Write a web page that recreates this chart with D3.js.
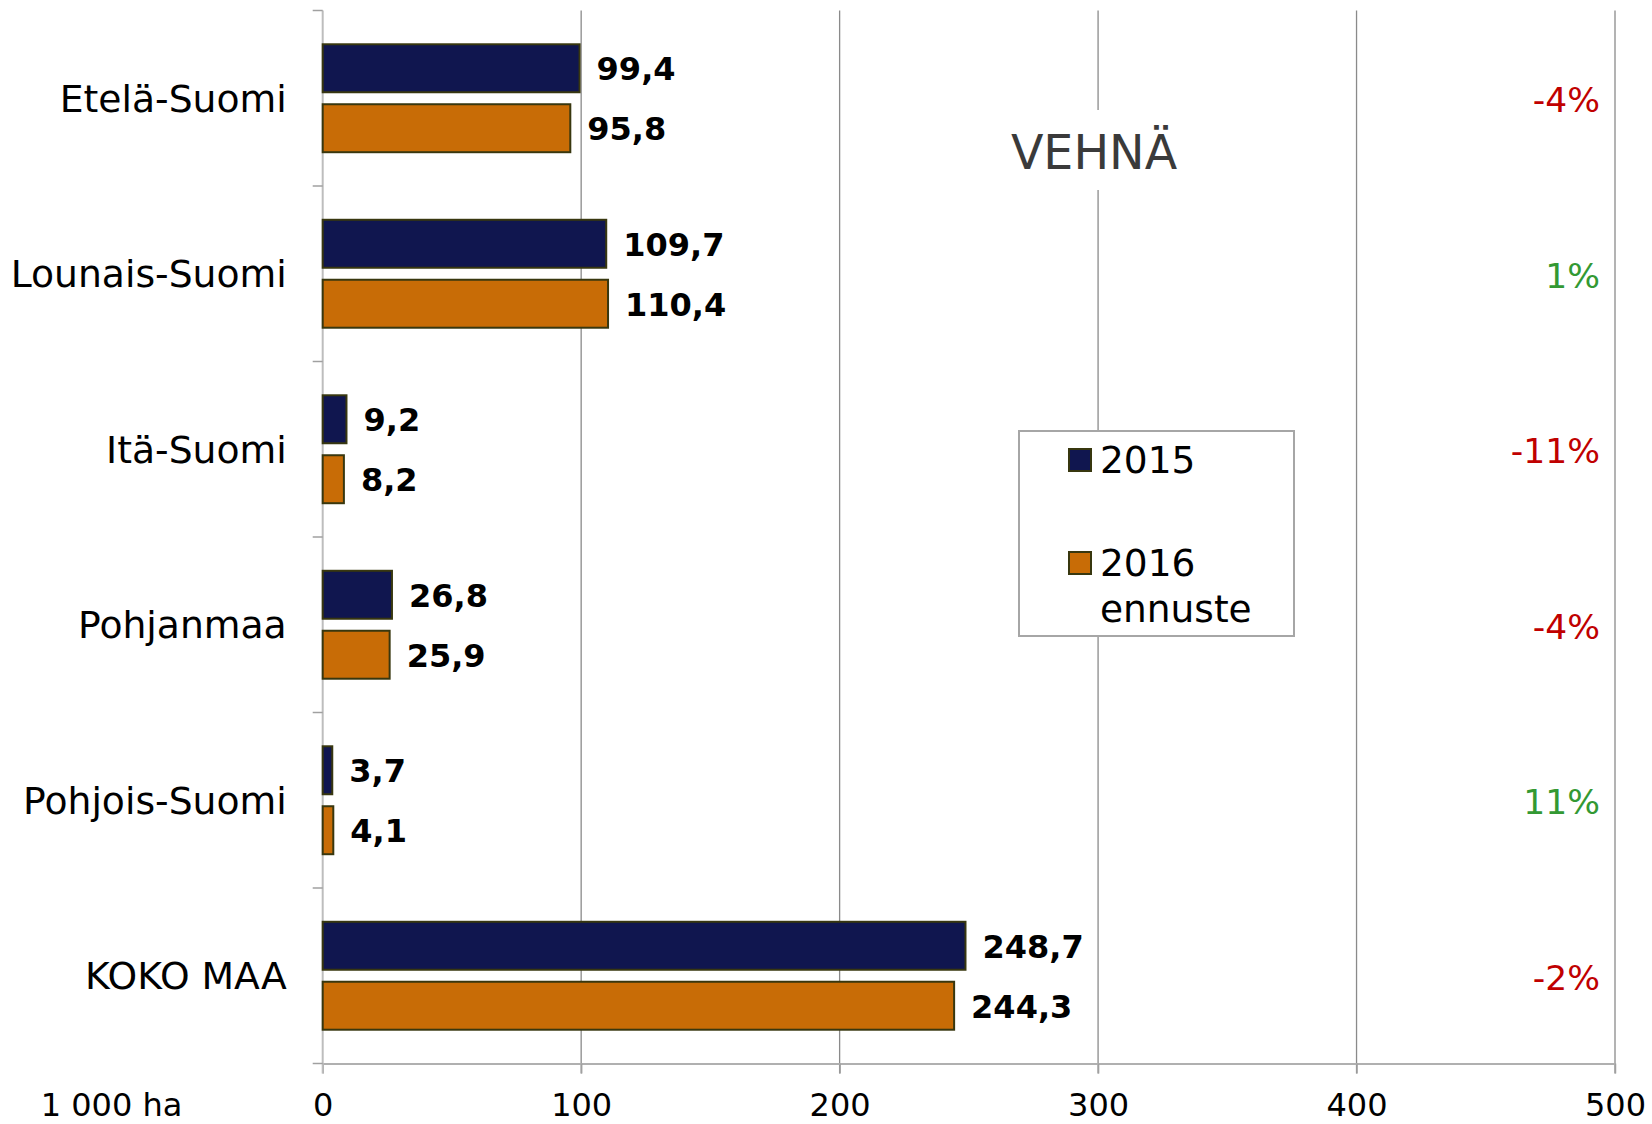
<!DOCTYPE html>
<html>
<head>
<meta charset="utf-8">
<script src="https://cdn.jsdelivr.net/npm/d3@7"></script>
<style>
  body { margin: 0; background: #fff; }
  text { font-family: "DejaVu Sans", Verdana, sans-serif; }
</style>
</head>
<body>
<svg id="chart" width="1652" height="1124"></svg>
<script>
// data
var regions = ['Etelä-Suomi', 'Lounais-Suomi', 'Itä-Suomi', 'Pohjanmaa', 'Pohjois-Suomi', 'KOKO MAA']
var years = ['2015', '2016']
var values2015 = [99.4, 109.7, 9.2, 26.8, 3.7, 248.7]
var values2016 = [95.8, 110.4, 8.2, 25.9, 4.1, 244.3]
var changes = ['-4%', '1%', '-11%', '-4%', '11%', '-2%']
var xTicks = [0, 100, 200, 300, 400, 500]
var legendLabels = [['2015'], ['2016', 'ennuste']]

var colors = { '2015': '#10164f', '2016': '#c86c06' }

var svg = d3.select('#chart'),
  margin = {top: 10.5, right: 37, bottom: 60.5, left: 322.7},
  width = +svg.attr('width') - margin.left - margin.right,
  height = +svg.attr('height') - margin.top - margin.bottom

var x = d3.scaleLinear().domain([0, 500]).range([0, width])
var y = d3.scaleBand().domain(regions).range([0, height])
  .paddingInner(0.385).paddingOuter(0.1925)
var yInner = d3.scaleBand().domain(years).range([0, y.bandwidth()]).paddingInner(0.2)

var g = svg.append('g')
  .attr('transform', 'translate(' + margin.left + ',' + margin.top + ')')

// vertical gridlines
g.append('g')
  .selectAll('line')
  .data(xTicks.slice(1))
  .enter().append('line')
  .attr('x1', function (d) { return x(d) })
  .attr('x2', function (d) { return x(d) })
  .attr('y1', 0)
  .attr('y2', height + 10)
  .attr('stroke', '#8a8a8a')
  .attr('stroke-width', 1.3)

// x axis
var xAxis = g.append('g')
  .attr('transform', 'translate(0,' + height + ')')
  .call(d3.axisBottom(x).tickValues(xTicks).tickSize(10).tickPadding(20).tickSizeOuter(0))
xAxis.select('.domain').attr('stroke', '#b0b0b0').attr('stroke-width', 2)
xAxis.selectAll('.tick line').attr('stroke', '#a0a0a0').attr('stroke-width', 1.5)
xAxis.selectAll('.tick text')
  .attr('font-size', 32)
  .attr('font-family', '"DejaVu Sans", Verdana, sans-serif')
  .attr('fill', '#000')

// y axis line and category ticks
var boundaries = regions.map(function (d) { return y(d) - y.step() * y.paddingInner() / 2 })
boundaries.push(height)
g.append('line')
  .attr('x1', 0).attr('x2', 0)
  .attr('y1', 0).attr('y2', height + 10)
  .attr('stroke', '#bdbdbd')
  .attr('stroke-width', 2)
g.append('g')
  .selectAll('line')
  .data(boundaries)
  .enter().append('line')
  .attr('x1', -10).attr('x2', 0)
  .attr('y1', function (d) { return d })
  .attr('y2', function (d) { return d })
  .attr('stroke', '#a0a0a0')
  .attr('stroke-width', 1.5)

// category labels
g.append('g')
  .selectAll('text')
  .data(regions)
  .enter().append('text')
  .attr('x', -36)
  .attr('y', function (d) { return y(d) + y.bandwidth() / 2 })
  .attr('dy', '0.36em')
  .attr('text-anchor', 'end')
  .attr('font-size', 37.7)
  .attr('fill', '#000')
  .text(function (d) { return d })

g.append('text')
  .attr('x', -282)
  .attr('y', height + 52.5)
  .attr('font-size', 32)
  .attr('fill', '#000')
  .text('1 000 ha')

// bars
var rows = regions.map(function (r, i) {
  return { region: r, vals: [{year: '2015', v: values2015[i]}, {year: '2016', v: values2016[i]}] }
})
var groups = g.append('g')
  .selectAll('g')
  .data(rows)
  .enter().append('g')
  .attr('transform', function (d) { return 'translate(0,' + y(d.region) + ')' })

groups.selectAll('rect')
  .data(function (d) { return d.vals })
  .enter().append('rect')
  .attr('x', 0)
  .attr('y', function (d) { return yInner(d.year) })
  .attr('width', function (d) { return x(d.v) })
  .attr('height', yInner.bandwidth())
  .attr('fill', function (d) { return colors[d.year] })
  .attr('stroke', '#38370f')
  .attr('stroke-width', 2)

groups.selectAll('text')
  .data(function (d) { return d.vals })
  .enter().append('text')
  .attr('x', function (d) { return x(d.v) + 17 })
  .attr('y', function (d) { return yInner(d.year) + yInner.bandwidth() / 2 })
  .attr('dy', '0.38em')
  .attr('font-size', 32)
  .attr('font-weight', 'bold')
  .attr('fill', '#000')
  .text(function (d) { return d3.format('.1f')(d.v).replace('.', ',') })

// change labels
g.append('g')
  .selectAll('text')
  .data(regions)
  .enter().append('text')
  .attr('x', width - 15)
  .attr('y', function (d) { return y(d) + y.bandwidth() / 2 })
  .attr('dy', '0.4em')
  .attr('text-anchor', 'end')
  .attr('font-size', 34.5)
  .attr('fill', function (d, i) { return changes[i].charAt(0) === '-' ? '#c00000' : '#339933' })
  .text(function (d, i) { return changes[i] })

// title with white background
var title = svg.append('g')
title.append('rect')
  .attr('x', 1005).attr('y', 110)
  .attr('width', 180).attr('height', 80)
  .attr('fill', '#fff')
title.append('text')
  .attr('x', 1094)
  .attr('y', 169)
  .attr('text-anchor', 'middle')
  .attr('font-size', 47.5)
  .attr('fill', '#3a3a3a')
  .text('VEHNÄ')

// legend
var legend = svg.append('g').attr('transform', 'translate(1019,431)')
legend.append('rect')
  .attr('width', 275).attr('height', 205)
  .attr('fill', '#fff')
  .attr('stroke', '#a6a6a6')
  .attr('stroke-width', 2)
var items = legend.selectAll('g.item')
  .data(years)
  .enter().append('g')
  .attr('class', 'item')
  .attr('transform', function (d, i) { return 'translate(50,' + (18 + i * 103) + ')' })
items.append('rect')
  .attr('width', 22).attr('height', 22)
  .attr('fill', function (d) { return colors[d] })
  .attr('stroke', '#38370f')
  .attr('stroke-width', 2)
items.each(function (d, i) {
  var t = d3.select(this).append('text')
    .attr('x', 31)
    .attr('y', 24)
    .attr('font-size', 37.5)
    .attr('fill', '#000')
  legendLabels[i].forEach(function (line, j) {
    t.append('tspan').attr('x', 31).attr('dy', j === 0 ? 0 : 46).text(line)
  })
})
</script>
</body>
</html>
